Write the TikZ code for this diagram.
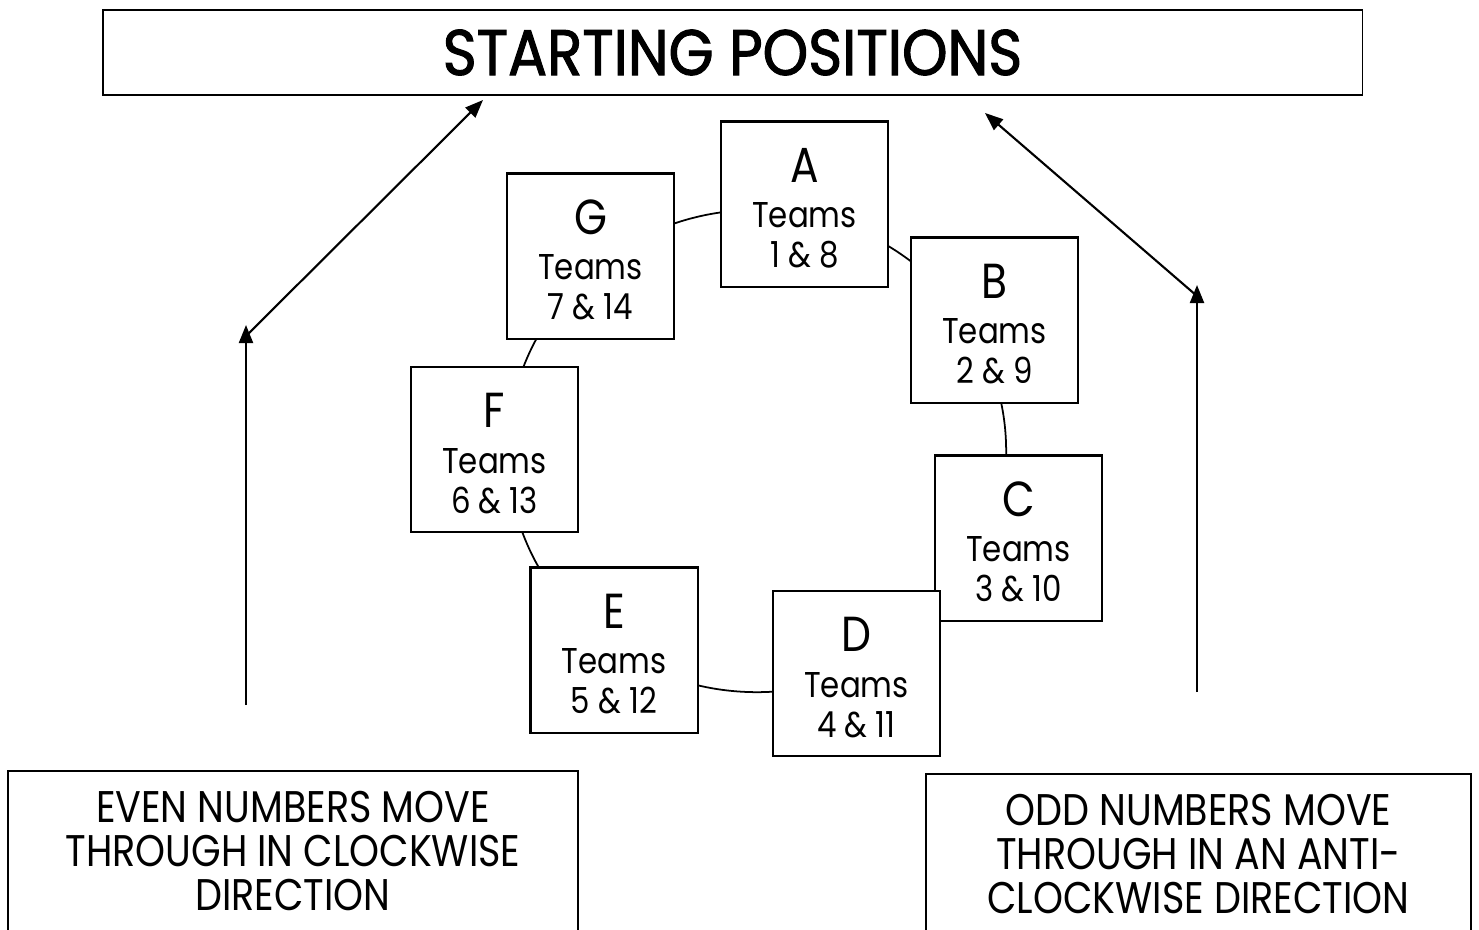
\documentclass[tikz,border=0pt]{standalone}
\usepackage{fontspec}
\setmainfont[FakeStretch=0.86]{Poppins}
\newfontfamily\headfont[FakeStretch=0.9,FakeBold=1.6]{Poppins}
\usetikzlibrary{arrows.meta,positioning}

\newcommand{\sitetext}[2]{{\fontsize{14}{15}\selectfont\rule{0pt}{0.425cm}#1}\\[1.6pt]Teams\\#2}

\begin{document}
\begin{tikzpicture}[x=0.01cm,y=-0.01cm,
    site/.style={draw,fill=white,line width=0.6pt,minimum width=1.67cm,minimum height=1.65cm,inner sep=0pt,align=center,font=\fontsize{10.2}{11.4}\selectfont},
    note/.style={draw,line width=0.6pt,anchor=north,align=center,inner ysep=0.2cm,text depth=1.2cm,font=\fontsize{12.6}{12.5}\selectfont},
    flow/.style={line width=0.6pt,-{Triangle[length=0.18cm,width=0.14cm]}}]
    \clip (0,0) rectangle (1479,929);

    % title
    \node[draw,line width=0.5pt,minimum width=12.59cm,minimum height=0.85cm,font=\fontsize{18.3}{20}\headfont] (title) at (732.5,52.5) {STARTING POSITIONS};

    % the ring behind the stations
    \draw[line width=0.5pt] (757,451) ellipse [x radius=2.49cm, y radius=2.41cm];

    \node[site] (A) at (804.5,204) {\sitetext{A}{1 \& 8}};
    \node[site] (G) at (590.5,256) {\sitetext{G}{7 \& 14}};
    \node[site] (B) at (994.5,320) {\sitetext{B}{2 \& 9}};
    \node[site] (F) at (494.5,449.5) {\sitetext{F}{6 \& 13}};
    \node[site] (C) at (1018.5,538) {\sitetext{C}{3 \& 10}};
    \node[site] (E) at (614,650) {\sitetext{E}{5 \& 12}};
    \node[site] (D) at (856.5,673.5) {\sitetext{D}{4 \& 11}};

    % direction notes
    \node[note,minimum width=5.7cm] (even) at (293,770) {EVEN NUMBERS MOVE\\THROUGH IN CLOCKWISE\\DIRECTION};
    \node[note,minimum width=5.45cm] (odd) at (1198.5,773) {ODD NUMBERS MOVE\\THROUGH IN AN ANTI-\\CLOCKWISE DIRECTION};

    \coordinate (evenlow) at (246,705);
    \coordinate (evenup) at (246,325);
    \coordinate (evenkink) at (246,336);
    \coordinate (eventip) at (483,100);
    \coordinate (oddlow) at (1197,692);
    \coordinate (oddup) at (1197,285);
    \coordinate (oddkink) at (1197,296);
    \coordinate (oddtip) at (985,113);

    \draw[flow] (evenlow) -- (evenup);
    \draw[flow] (evenkink) -- (eventip);
    \draw[flow] (oddlow) -- (oddup);
    \draw[flow] (oddkink) -- (oddtip);
\end{tikzpicture}
\end{document}
